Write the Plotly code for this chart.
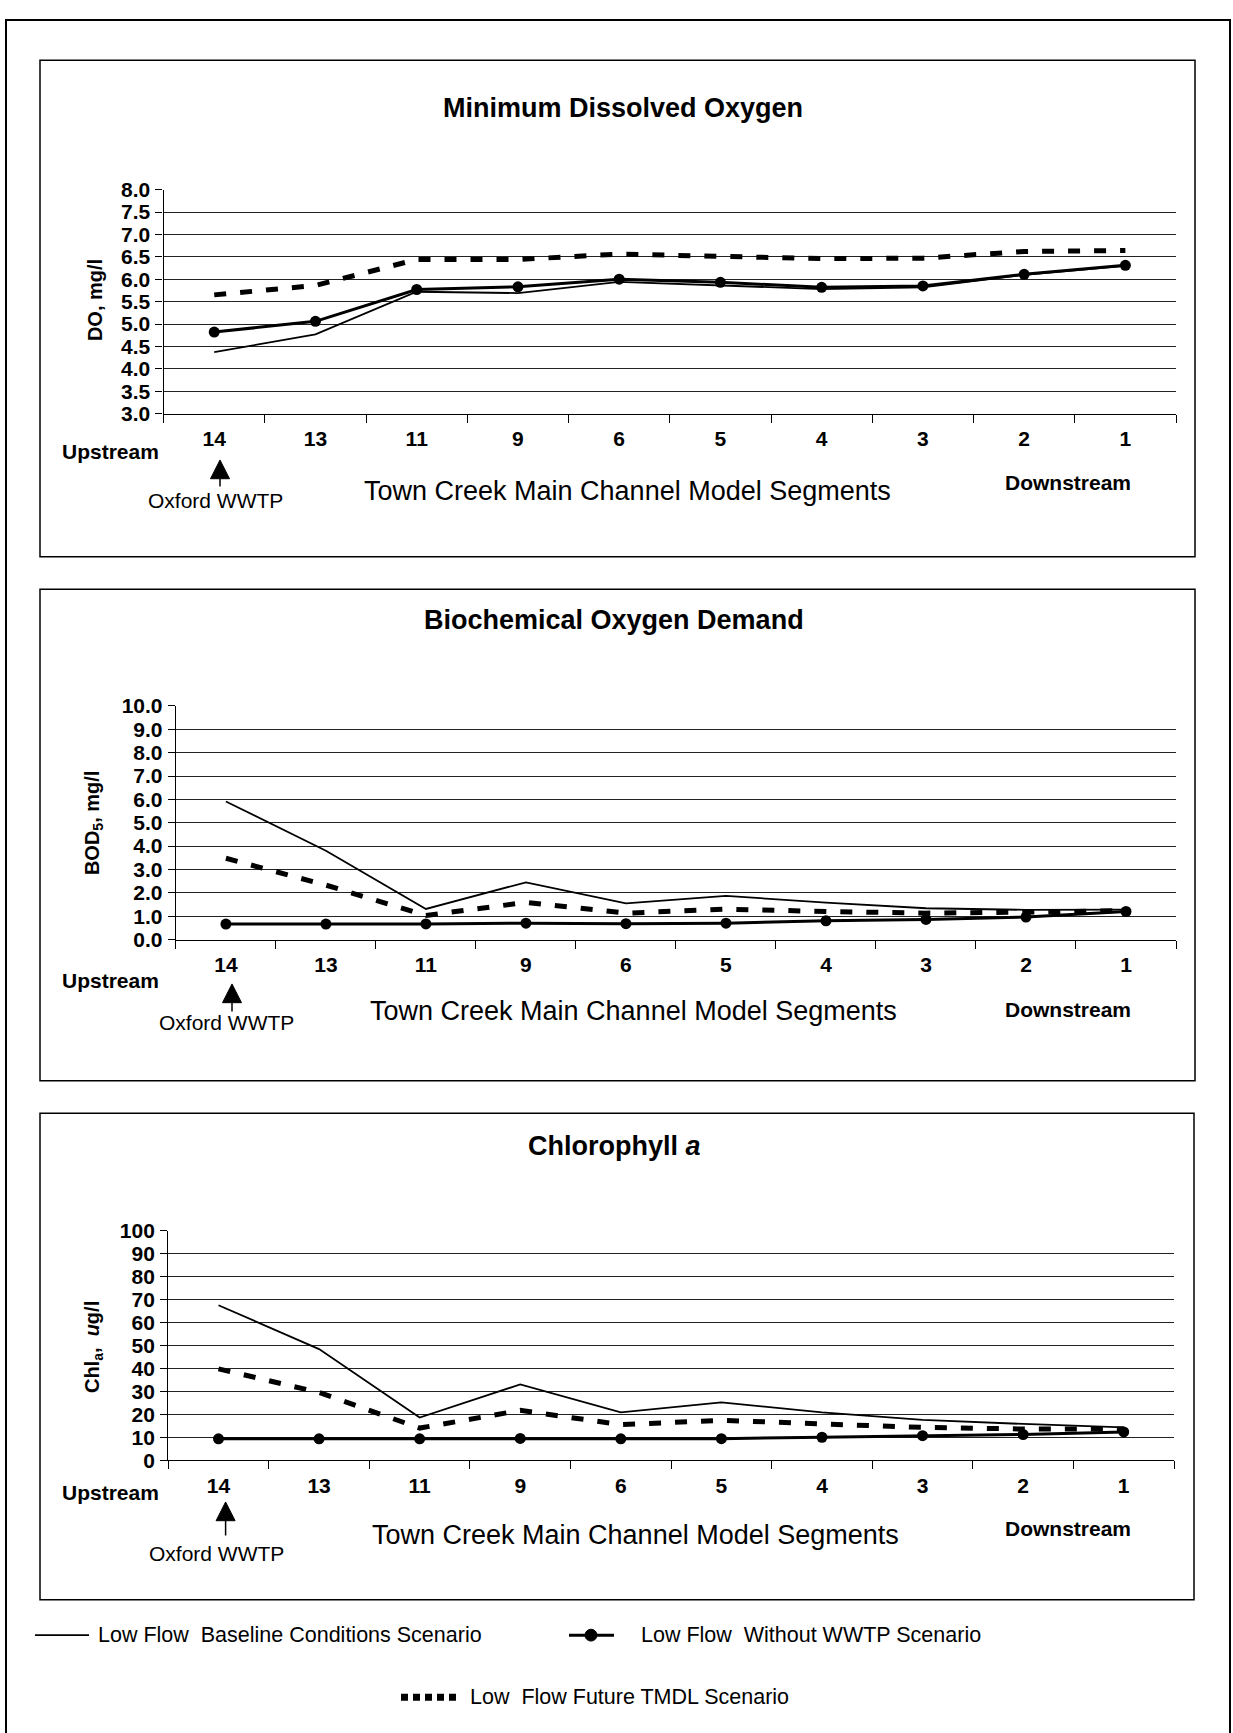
import plotly.graph_objects as go

W, H = 1233, 1733

segments = ["14", "13", "11", "9", "6", "5", "4", "3", "2", "1"]

# Minimum Dissolved Oxygen (mg/l)
do_baseline = [4.37, 4.77, 5.72, 5.69, 5.94, 5.86, 5.78, 5.82, 6.10, 6.30]
do_without = [4.82, 5.06, 5.77, 5.83, 6.00, 5.93, 5.82, 5.85, 6.11, 6.31]
do_tmdl = [5.65, 5.86, 6.44, 6.44, 6.56, 6.52, 6.46, 6.47, 6.62, 6.64]

# Biochemical Oxygen Demand (mg/l)
bod_baseline = [5.91, 3.80, 1.31, 2.45, 1.55, 1.87, 1.58, 1.34, 1.27, 1.28]
bod_without = [0.66, 0.66, 0.67, 0.70, 0.68, 0.70, 0.80, 0.86, 0.96, 1.20]
bod_tmdl = [3.48, 2.33, 1.03, 1.59, 1.13, 1.30, 1.20, 1.13, 1.17, 1.24]

# Chlorophyll a (ug/l)
chl_baseline = [67.5, 48.4, 18.6, 33.0, 20.8, 25.2, 20.8, 17.6, 15.8, 14.3]
chl_without = [9.3, 9.3, 9.3, 9.5, 9.3, 9.4, 10.0, 10.7, 11.2, 12.3]
chl_tmdl = [39.8, 29.5, 14.0, 21.7, 15.5, 17.4, 15.8, 14.3, 13.6, 13.6]

do_ticks = [3.0, 3.5, 4.0, 4.5, 5.0, 5.5, 6.0, 6.5, 7.0, 7.5, 8.0]
bod_ticks = [0.0, 1.0, 2.0, 3.0, 4.0, 5.0, 6.0, 7.0, 8.0, 9.0, 10.0]
chl_ticks = [0, 10, 20, 30, 40, 50, 60, 70, 80, 90, 100]

names = ["Low Flow  Baseline Conditions Scenario",
         "Low Flow  Without WWTP Scenario",
         "Low  Flow Future TMDL Scenario"]

FONT = "Arial, Liberation Sans, sans-serif"


def X(px):
    return px / W


def Y(py):
    return 1 - py / H


# plot areas in pixels: (left, right, top, bottom)
areas = [(163.6, 1176, 180, 407), (175.9, 1176, 703.3, 940), (168.2, 1174, 1235, 1467.7)]

fig = go.Figure()

datasets = [
    (do_baseline, do_without, do_tmdl),
    (bod_baseline, bod_without, bod_tmdl),
    (chl_baseline, chl_without, chl_tmdl),
]

for i, (b, w, t) in enumerate(datasets):
    xa = "x" if i == 0 else f"x{i+1}"
    ya = "y" if i == 0 else f"y{i+1}"
    fig.add_trace(go.Scatter(x=segments, y=t, mode="lines", name=names[2],
                             line=dict(color="black", width=5, dash="12px,14px"),
                             xaxis=xa, yaxis=ya, showlegend=False))
    fig.add_trace(go.Scatter(x=segments, y=b, mode="lines", name=names[0],
                             line=dict(color="black", width=1.8),
                             xaxis=xa, yaxis=ya, showlegend=False))
    fig.add_trace(go.Scatter(x=segments, y=w, mode="lines+markers", name=names[1],
                             line=dict(color="black", width=3),
                             marker=dict(symbol="circle", size=11, color="black"),
                             xaxis=xa, yaxis=ya, showlegend=False))

tick_sets = [
    (do_ticks, [f"{v:.1f}" for v in do_ticks]),
    (bod_ticks, [f"{v:.1f}" for v in bod_ticks]),
    (chl_ticks, [f"{v:d}" for v in chl_ticks]),
]

layout = dict(
    width=W, height=H,
    margin=dict(l=0, r=0, t=0, b=0),
    paper_bgcolor="white", plot_bgcolor="white",
    font=dict(family=FONT, color="black"),
)

for i, (l, r, t, bt) in enumerate(areas):
    xk = "xaxis" if i == 0 else f"xaxis{i+1}"
    yk = "yaxis" if i == 0 else f"yaxis{i+1}"
    yanchor = "y" if i == 0 else f"y{i+1}"
    xanchor = "x" if i == 0 else f"x{i+1}"
    tv, tt = tick_sets[i]
    grid_vals = tv[1:-1]
    layout[xk] = dict(
        domain=[X(l), X(r)], anchor=yanchor, type="category",
        categoryorder="array", categoryarray=segments,
        range=[-0.5, 9.5], showline=True, linecolor="black", linewidth=1.3,
        ticks="outside", tickson="boundaries", ticklen=8, tickcolor="black", tickwidth=1.2,
        showgrid=False, zeroline=False,
        tickfont=dict(family=FONT, size=21, weight="bold"),
        ticklabelstandoff=6,
    )
    layout[yk] = dict(
        domain=[Y(bt), Y(t)], anchor=xanchor,
        range=[tv[0], tv[-1]], tickmode="array", tickvals=tv, ticktext=tt,
        showline=True, linecolor="black", linewidth=1.3,
        ticks="outside", ticklen=7, tickcolor="black", tickwidth=1.2,
        showgrid=False, zeroline=False,
        minor=dict(tickmode="array", tickvals=grid_vals, showgrid=True,
                   gridcolor="#222222", gridwidth=1, ticks=""),
        tickfont=dict(family=FONT, size=21, weight="bold"),
        ticklabelstandoff=1,
    )

fig.update_layout(**layout)

shapes = []
# outer border
shapes.append(dict(type="rect", xref="paper", yref="paper",
                   x0=X(6), x1=X(1230), y0=Y(1760), y1=Y(8),
                   line=dict(color="black", width=2)))
# panel boxes
for (y0, y1, x1) in [(49, 552, 1195), (585, 1083, 1195), (1116, 1609, 1194)]:
    shapes.append(dict(type="rect", xref="paper", yref="paper",
                       x0=X(40), x1=X(x1), y0=Y(y1), y1=Y(y0),
                       line=dict(color="black", width=1.5)))

# Oxford WWTP arrows (x, tip y, stem bottom y)
for (ax, tip, bottom) in [(220, 454, 481), (232, 985, 1013), (225.6, 1510, 1544)]:
    hw, hh = 9.5, 19
    path = (f"M {X(ax)},{Y(tip)} L {X(ax - hw)},{Y(tip + hh)} "
            f"L {X(ax + hw)},{Y(tip + hh)} Z")
    shapes.append(dict(type="path", xref="paper", yref="paper", path=path,
                       fillcolor="black", line=dict(color="black", width=1)))
    shapes.append(dict(type="line", xref="paper", yref="paper",
                       x0=X(ax), x1=X(ax), y0=Y(tip + hh), y1=Y(bottom),
                       line=dict(color="black", width=1.5)))

# legend symbols (drawn manually to match the original layout)
shapes.append(dict(type="line", xref="paper", yref="paper",
                   x0=X(35), x1=X(89), y0=Y(1645), y1=Y(1645),
                   line=dict(color="black", width=1.8)))
shapes.append(dict(type="line", xref="paper", yref="paper",
                   x0=X(569), x1=X(614), y0=Y(1645), y1=Y(1645),
                   line=dict(color="black", width=3)))
shapes.append(dict(type="circle", xref="paper", yref="paper",
                   x0=X(585), x1=X(597), y0=Y(1651), y1=Y(1639),
                   fillcolor="black", line=dict(color="black", width=1)))
shapes.append(dict(type="line", xref="paper", yref="paper",
                   x0=X(401), x1=X(459), y0=Y(1708), y1=Y(1708),
                   line=dict(color="black", width=7, dash="7px,5px")))

fig.update_layout(shapes=shapes)

ann = []


def text(x, y, s, size, bold=False, angle=0, anchor="center"):
    ann.append(dict(x=X(x), y=Y(y), xref="paper", yref="paper", text=s,
                    showarrow=False, xanchor=anchor, yanchor="middle",
                    textangle=angle,
                    font=dict(family=FONT, size=size, color="black",
                              weight="bold" if bold else "normal")))


# titles
text(623, 97, "Minimum Dissolved Oxygen", 27, bold=True)
text(614, 616, "Biochemical Oxygen Demand", 27, bold=True)
text(614, 1149, "Chlorophyll <i>a</i>", 27, bold=True)

# y-axis titles
text(95, 292, "DO, mg/l", 20, bold=True, angle=-90)
text(93, 822, "BOD<sub>5</sub>, mg/l", 20, bold=True, angle=-90)
text(93, 1353, "Chl<sub>a</sub>,  <i>u</i>g/l", 20, bold=True, angle=-90)

# Upstream / Downstream
for (uy, dy) in [(445, 477), (982, 1011), (1500, 1537)]:
    text(110, uy, "Upstream", 21, bold=True)
    text(1068, dy, "Downstream", 21, bold=True)

# x-axis titles
for (cx, cy) in [(627, 485), (633, 1012), (635, 1543)]:
    text(cx, cy, "Town Creek Main Channel Model Segments", 27)

# Oxford WWTP
for (cx, cy) in [(215, 495), (226, 1024), (216, 1562)]:
    text(cx, cy, "Oxford WWTP", 21)

# legend texts
text(96, 1645, names[0], 21.5, anchor="left")
text(639, 1645, names[1], 21.5, anchor="left")
text(468, 1708, names[2], 21.5, anchor="left")

fig.update_layout(annotations=ann)

post = """
document.documentElement.style.margin='0';
document.body.style.margin='0';
document.body.style.padding='0';
"""

fig.write_html("out.html", config={"displayModeBar": False}, post_script=post)
